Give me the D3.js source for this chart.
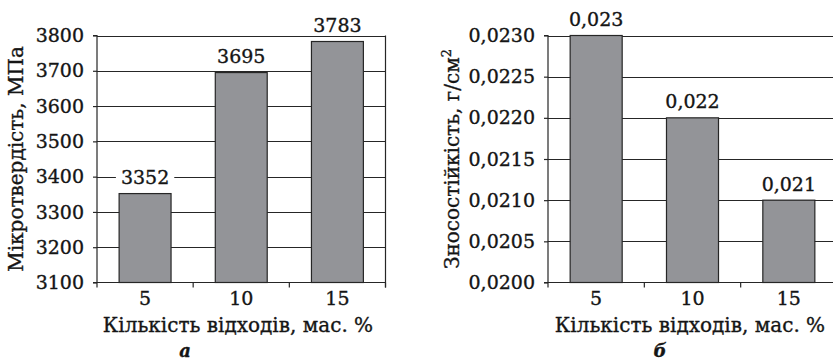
<!DOCTYPE html>
<html>
<head>
<meta charset="utf-8">
<script src="https://cdn.jsdelivr.net/npm/d3@7"></script>
<style>
  html, body { margin: 0; padding: 0; background: #fff; }
  svg { display: block; }
  text { font-family: "DejaVu Serif", serif; fill: #151515; stroke: #151515; stroke-width: 0.35px; }
</style>
</head>
<body>
<script>
const categories = ["5", "10", "15"];
const hardness = [3352, 3695, 3783];
const wear = [0.023, 0.022, 0.021];
const hardnessTicks = [3100, 3200, 3300, 3400, 3500, 3600, 3700, 3800];
const wearTicks = [0.0200, 0.0205, 0.0210, 0.0215, 0.0220, 0.0225, 0.0230];
const xTitle = "Кількість відходів, мас. %";
const yTitleA = "Мікротвердість, МПа";
const yTitleB = "Зносостійкість, г/см";
const panelLabels = ["а", "б"];

const W = 833, H = 362;
const svg = d3.select("body").append("svg").attr("width", W).attr("height", H);

const loc = d3.formatLocale({decimal: ",", thousands: "", grouping: [3], currency: ["", ""]});

const FS = 19;      // numbers
const FT = 20;      // titles
const BAR_FILL = "#939498";
const DARK = "#262626";

function panel(opts) {
  const {x0, x1, y0, y1, values, domain, ticks, tickFmt, valFmt, yTitle, yTitleX, sup, label} = opts;
  const g = svg.append("g");
  const x = d3.scaleBand().domain(categories).range([x0, x1]).paddingInner(0.46).paddingOuter(0.23);
  const y = d3.scaleLinear().domain(domain).range([y1, y0]);

  // gridlines
  g.append("g").selectAll("line").data(ticks.slice(1)).join("line")
    .attr("x1", x0).attr("x2", x1)
    .attr("y1", d => Math.round(y(d)) + 0.5).attr("y2", d => Math.round(y(d)) + 0.5)
    .attr("stroke", DARK).attr("stroke-width", 1.2);
  // right border
  g.append("line").attr("x1", x1).attr("x2", x1).attr("y1", y0).attr("y2", y1 + 5)
    .attr("stroke", DARK).attr("stroke-width", 1.2);

  // bars
  g.append("g").selectAll("rect").data(values).join("rect")
    .attr("x", (d, i) => x(categories[i]))
    .attr("width", x.bandwidth())
    .attr("y", d => y(d))
    .attr("height", d => y1 - y(d))
    .attr("fill", BAR_FILL).attr("stroke", DARK).attr("stroke-width", 1.2);

  // y axis
  const yAxis = d3.axisLeft(y).tickValues(ticks).tickSize(4).tickPadding(9).tickFormat(tickFmt);
  const ya = g.append("g").attr("transform", `translate(${x0},0)`).call(yAxis);
  ya.select(".domain").attr("stroke", DARK).attr("stroke-width", 1.2).attr("d", `M-4,${y0}H0V${y1}`);
  ya.selectAll(".tick line").attr("stroke", DARK).attr("stroke-width", 1.2);
  ya.selectAll(".tick text").style("font-family", '"DejaVu Serif", serif').style("font-size", FS + "px")
    .attr("fill", "#151515");

  // x axis
  const xa = g.append("g").attr("transform", `translate(0,${y1})`);
  xa.append("line").attr("x1", x0 - 4).attr("x2", x1).attr("y1", 0).attr("y2", 0)
    .attr("stroke", DARK).attr("stroke-width", 1.2);
  const step = x.step();
  const bounds = d3.range(categories.length + 1).map(i => x0 + i * step);
  xa.selectAll("line.tk").data(bounds).join("line").attr("class", "tk")
    .attr("x1", d => d).attr("x2", d => d).attr("y1", 0).attr("y2", 5)
    .attr("stroke", DARK).attr("stroke-width", 1.2);
  xa.selectAll("text.cat").data(categories).join("text").attr("class", "cat")
    .attr("x", d => x(d) + x.bandwidth() / 2).attr("y", 22)
    .attr("text-anchor", "middle").style("font-size", FS + "px").text(d => d);

  // x title
  g.append("text").attr("x", opts.titleX).attr("y", 331.5)
    .attr("text-anchor", "middle").style("font-size", FT + "px").text(xTitle);
  // panel label
  g.append("text").attr("x", opts.labelX).attr("y", 357)
    .attr("text-anchor", "middle").style("font-size", "18px")
    .style("font-weight", "bold").style("font-style", "italic").text(label);

  // y title
  const yt = g.append("text").attr("transform", `translate(${yTitleX},${(y0 + y1) / 2}) rotate(-90)`)
    .attr("text-anchor", "middle").style("font-size", FT + "px").text(yTitle);
  if (sup) yt.append("tspan").attr("dy", -8).style("font-size", "13px").text(sup);

  // value labels with white background
  const vl = g.append("g").selectAll("g").data(values).join("g");
  vl.each(function(d, i) {
    const gg = d3.select(this);
    const cx = x(categories[i]) + x.bandwidth() / 2;
    const by = y(d) - 9.5;
    const t = gg.append("text").attr("x", cx).attr("y", by).attr("text-anchor", "middle")
      .style("font-size", FS + "px").text(valFmt(d));
    const bb = t.node().getBBox();
    gg.insert("rect", "text").attr("x", bb.x - 5).attr("y", bb.y + 2).attr("width", bb.width + 10)
      .attr("height", bb.height - 4).attr("fill", "#fff");
  });
}

panel({
  x0: 97, x1: 385.5, y0: 35.5, y1: 282.5,
  values: hardness, domain: [3100, 3800], ticks: hardnessTicks,
  tickFmt: d3.format("d"), valFmt: d3.format("d"),
  yTitle: yTitleA, yTitleX: 23, sup: null, label: panelLabels[0], labelX: 185, titleX: 238
});

panel({
  x0: 548, x1: 837, y0: 35.5, y1: 282.5,
  values: wear, domain: [0.0200, 0.0230], ticks: wearTicks,
  tickFmt: loc.format(".4f"), valFmt: loc.format(".3f"),
  yTitle: yTitleB, yTitleX: 459, sup: "2", label: panelLabels[1], labelX: 660, titleX: 690
});
</script>
</body>
</html>
